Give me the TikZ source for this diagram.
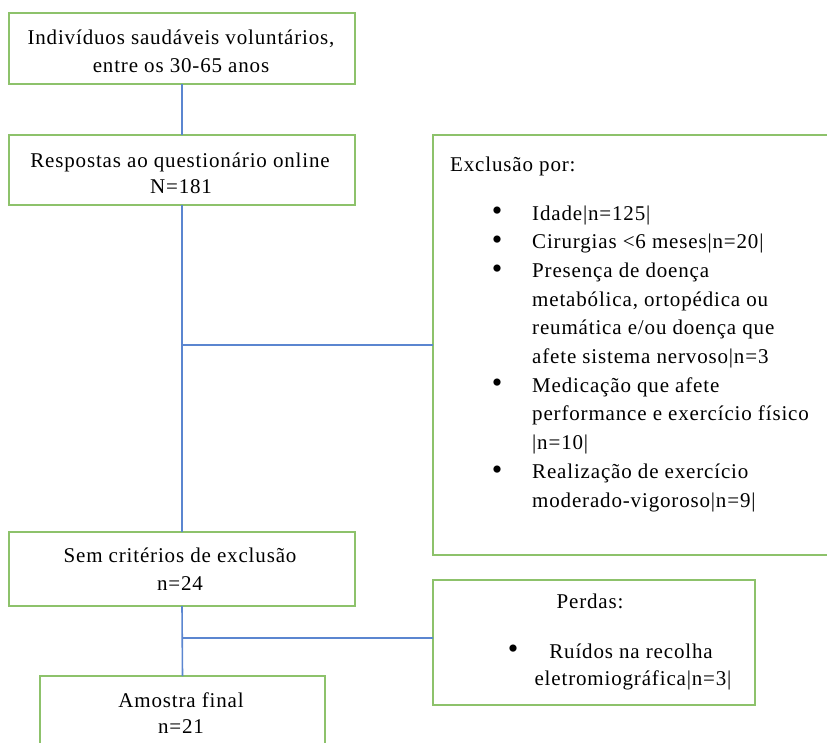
\documentclass[tikz,border=0pt]{standalone}
\usepackage{fontspec}
\setmainfont{Liberation Serif}[LetterSpace=4]
\definecolor{boxgreen}{HTML}{8DC26B}
\definecolor{linkblue}{HTML}{5B86D0}
\tikzset{
  box/.style={draw=boxgreen, line width=1.6pt, inner sep=0pt, outer sep=0pt, anchor=north west, fill=none},
  txt/.style={font=\fontsize{21}{27}\selectfont, inner sep=0pt, anchor=base},
  ltxt/.style={txt, anchor=base west},
  bul/.style={font=\fontsize{30}{30}\selectfont, inner sep=0pt, anchor=center},
  link/.style={draw=linkblue, line width=1.6pt}
}
\begin{document}
\begin{tikzpicture}[x=1pt,y=-1pt]
\useasboundingbox (0,0) rectangle (827,742);
% boxes
\node[box, minimum width=346pt, minimum height=71pt] (b1) at (9,13) {};
\node[box, minimum width=346pt, minimum height=70pt] (b2) at (9,135) {};
\node[box, minimum width=397pt, minimum height=420pt] (excl) at (433,135) {};
\node[box, minimum width=346pt, minimum height=74pt] (b3) at (9,532) {};
\node[box, minimum width=322pt, minimum height=125pt] (perdas) at (433,580) {};
\node[box, minimum width=285pt, minimum height=70pt] (b4) at (40,676) {};
% connectors
\coordinate (j1) at (182,345);
\coordinate (j2) at (182,638);
\draw[link] (b1.south) -- (b2.north);
\draw[link] (b2.south) -- (b3.north);
\draw[link] (j1) -- (excl.west |- j1);
\draw[link] (b3.south) -- (b4.north);
\draw[link] (j2) -- (perdas.west |- j2);
% texts
\node[txt] (t1a) at (181,44) {Indivíduos saudáveis voluntários,};
\node[txt] (t1b) at (181,72) {entre os 30-65 anos};
\node[txt] (t2a) at (180,167) {Respostas ao questionário online};
\node[txt] (t2b) at (181,193) {N=181};
\node[ltxt] (ex0) at (450,171) {Exclusão por:};
\foreach \y/\t [count=\i] in {
  220/{Idade|n=125|},
  248.7/{Cirurgias <6 meses|n=20|},
  277.4/{Presença de doença},
  306.1/{metabólica, ortopédica ou},
  334.8/{reumática e/ou doença que},
  363.5/{afete sistema nervoso|n=3},
  392.2/{Medicação que afete},
  420.9/{performance e exercício físico},
  449.6/{|n=10|},
  478.3/{Realização de exercício},
  507/{moderado-vigoroso|n=9|}}
  {\node[ltxt] (ex\i) at (532,\y) {\t};}
\foreach \y [count=\i] in {220,248.7,277.4,392.2,478.3}
  {\node[bul] (bul\i) at (497,\y-6) {\textbullet};}
\node[txt] (t3a) at (180,562) {Sem critérios de exclusão};
\node[txt] (t3b) at (180,590) {n=24};
\node[txt] (p0) at (590,608) {Perdas:};
\node[bul] (pbul) at (513,652) {\textbullet};
\node[txt] (p1) at (631,658) {Ruídos na recolha};
\node[txt] (p2) at (633,685) {eletromiográfica|n=3|};
\node[txt] (t4a) at (181,707) {Amostra final};
\node[txt] (t4b) at (181,733) {n=21};
\end{tikzpicture}
\end{document}
